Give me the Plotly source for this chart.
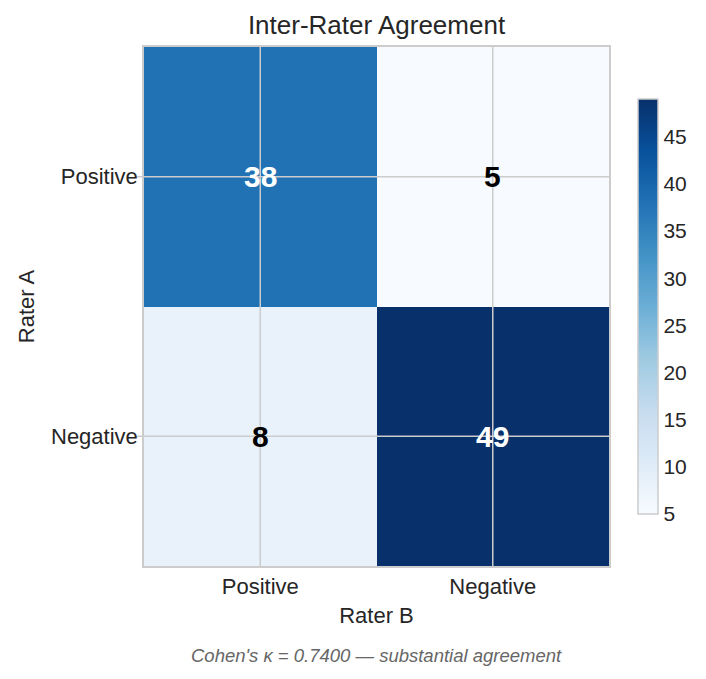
import plotly.graph_objects as go

rater_b = ["Positive", "Negative"]
rater_a = ["Positive", "Negative"]
counts = [[38, 5], [8, 49]]
kappa = 0.74
cb_ticks = [5, 10, 15, 20, 25, 30, 35, 40, 45]

zmin = min(min(r) for r in counts)
zmax = max(max(r) for r in counts)

FONT = "Liberation Sans, Arial, sans-serif"

fig = go.Figure()
fig.add_trace(go.Heatmap(
    z=counts, x=rater_b, y=rater_a,
    colorscale="Blues", zmin=zmin, zmax=zmax,
    showscale=True,
    colorbar=dict(
        x=1.062, xanchor="left", xpad=0,
        y=0.5, yanchor="middle", len=0.8, ypad=0,
        thickness=20, outlinewidth=1.5, outlinecolor="#cccccc",
        tickvals=cb_ticks, ticks="", ticklabelposition="outside",
        tickfont=dict(size=21, color="#262626"),
    ),
    hoverinfo="skip",
))

# gridlines at category centres, above heatmap
for c in rater_b:
    fig.add_shape(type="line", xref="x", yref="paper", x0=c, x1=c, y0=0, y1=1,
                  line=dict(color="#cccccc", width=1.5), layer="above")
for r in rater_a:
    fig.add_shape(type="line", xref="paper", yref="y", x0=-0.015, x1=1, y0=r, y1=r,
                  line=dict(color="#cccccc", width=1.5), layer="above")

thresh = (zmin + zmax) / 2
for i, r in enumerate(rater_a):
    for j, c in enumerate(rater_b):
        v = counts[i][j]
        fig.add_annotation(x=c, y=r, text=f"<b>{v}</b>", showarrow=False,
                           font=dict(size=30, color="white" if v > thresh else "black",
                                     family=FONT))

fig.add_annotation(xref="paper", yref="paper", x=0.5, y=-0.172, yanchor="middle",
                   text=f"<i>Cohen's κ = {kappa:.4f} — substantial agreement</i>",
                   showarrow=False, font=dict(size=18.5, color="#666666", family=FONT))

fig.update_layout(
    width=706, height=679,
    margin=dict(l=144, r=97, t=47, b=113),
    paper_bgcolor="white", plot_bgcolor="white",
    font=dict(family=FONT, color="#262626", size=22),
    title=dict(text="Inter-Rater Agreement", x=0.5, xref="paper", y=0.963, yanchor="middle",
               font=dict(size=26, color="#262626")),
    xaxis=dict(title=dict(text="Rater B", standoff=9, font=dict(size=22)),
               showgrid=False, zeroline=False, showline=True, mirror=True,
               linecolor="#cccccc", linewidth=1.5, ticks="", tickfont=dict(size=22)),
    yaxis=dict(title=dict(text="Rater A", standoff=10, font=dict(size=22)),
               autorange="reversed",
               showgrid=False, zeroline=False, showline=True, mirror=True,
               linecolor="#cccccc", linewidth=1.5, ticks="", tickfont=dict(size=22)),
)

fig.write_html("out.html", config={"displayModeBar": False},
               post_script="document.body.style.margin='0';")
